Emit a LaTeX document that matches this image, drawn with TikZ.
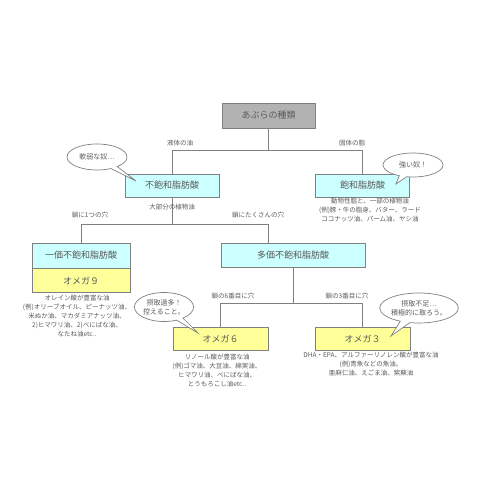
\documentclass[tikz,border=0pt]{standalone}
\usepackage{fontspec}
\setmainfont{Noto Sans CJK JP}
\usetikzlibrary{shapes.callouts}
\definecolor{boxgray}{RGB}{178,178,178}
\definecolor{boxcyan}{RGB}{204,255,255}
\definecolor{boxyellow}{RGB}{255,255,153}
\definecolor{linegray}{RGB}{128,128,128}
\definecolor{textgray}{RGB}{90,90,90}
\begin{document}
\begin{tikzpicture}[x=1pt, y=-1pt, line width=0.7pt,
  box/.style={draw=linegray, inner sep=0pt, minimum width=94, minimum height=23,
    text=textgray, font=\fontsize{9}{9}\selectfont},
  link/.style={draw=linegray},
  tag/.style={text=textgray, inner sep=0pt, font=\fontsize{6.5}{6.5}\selectfont},
  note/.style={text=textgray, inner sep=0pt, align=center, font=\fontsize{6.5}{9}\selectfont},
  bubble/.style={ellipse callout, draw=linegray, fill=white, inner sep=0pt,
    text=textgray, align=center, font=\fontsize{7}{9}\selectfont}]
  \useasboundingbox (0,0) rectangle (500,500);
  % boxes
  \node[box, fill=boxgray, minimum width=93, minimum height=25] (kinds) at (268.5,115.5) {あぶらの種類};
  \node[box, fill=boxcyan] (unsat) at (172,185.5) {不飽和脂肪酸};
  \node[box, fill=boxcyan] (sat) at (362.5,185.5) {飽和脂肪酸};
  \node[box, fill=boxcyan, minimum width=98, minimum height=25] (mono) at (81,255.5) {一価不飽和脂肪酸};
  \node[box, fill=boxyellow, minimum width=98, minimum height=24, anchor=north] (omega9) at (mono.south) {オメガ９};
  \node[box, fill=boxcyan, minimum width=144, minimum height=24] (poly) at (293,255) {多価不飽和脂肪酸};
  \node[box, fill=boxyellow, minimum width=95] (omega6) at (220.5,338.5) {オメガ６};
  \node[box, fill=boxyellow, minimum width=95] (omega3) at (362.5,338.5) {オメガ３};
  % connectors
  \draw[link] (kinds.south) -- ++(0,22) coordinate (fork1) -| (unsat.north);
  \draw[link] (fork1) -| (sat.north);
  \draw[link] (unsat.south) -- ++(0,27) coordinate (fork2) -| (mono.north);
  \draw[link] (fork2) -| ([xshift=-25]poly.north);
  \draw[link] (poly.south) -- ++(0,36) coordinate (fork3) -| (omega6.north);
  \draw[link] (fork3) -| (omega3.north);
  % labels
  \node[tag] (liquid) at (180,143) {液体の油};
  \node[tag] (solid) at (352,143) {固体の脂};
  \node[tag] (most) at (172,207) {大部分の植物油};
  \node[tag] (onehole) at (90,215) {鎖に1つの穴};
  \node[tag] (manyholes) at (258,215) {鎖にたくさんの穴};
  \node[tag] (sixth) at (233,296) {鎖の6番目に穴};
  \node[tag] (third) at (347,296) {鎖の3番目に穴};
  % notes
  \node[note, anchor=north] (satnote) at (370,198) {動物性脂と、一部の植物油\\(例)豚・牛の脂身、バター、ラード\\ココナッツ油、パーム油、ヤシ油};
  \node[note, anchor=north] (o9note) at (77,295) {オレイン酸が豊富な油\\(例)オリーブオイル、ピーナッツ油、\\米ぬか油、マカダミアナッツ油、\\2)ヒマワリ油、2)べにばな油、\\なたね油etc..};
  \node[note, anchor=north] (o6note) at (217,354) {リノール酸が豊富な油\\(例)ゴマ油、大豆油、綿実油、\\ヒマワリ油、べにばな油、\\とうもろこし油etc..};
  \node[note, anchor=north] (o3note) at (371,352) {DHA・EPA、アルファーリノレン酸が豊富な油\\(例)青魚などの魚油、\\亜麻仁油、えごま油、紫蘇油};
  % bubbles
  \node[bubble, minimum width=60, minimum height=26, callout absolute pointer={(136,181)}] (weak) at (97,157) {軟弱な奴…};
  \node[bubble, minimum width=60, minimum height=24, callout absolute pointer={(396,184)}] (strong) at (413,165) {強い奴！};
  \node[bubble, minimum width=56, minimum height=29, callout absolute pointer={(198,333)}] (toomuch) at (164,307) {摂取過多！\\控えること。};
  \node[bubble, minimum width=74, minimum height=30, callout absolute pointer={(391,336)}] (toolittle) at (419,308) {摂取不足…\\積極的に取ろう。};
\end{tikzpicture}
\end{document}
